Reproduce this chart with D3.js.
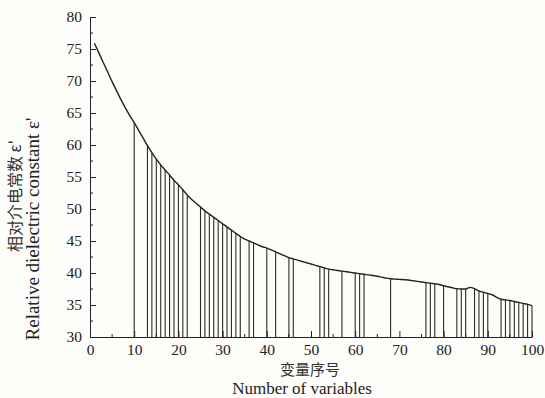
<!DOCTYPE html>
<html>
<head>
<meta charset="utf-8">
<script src="https://cdn.jsdelivr.net/npm/d3@7"></script>
<style>
  body { margin: 0; background: #fdfdfa; }
  svg { display: block; }
</style>
</head>
<body>
<script>
// chart size
var w = 545, h = 398;
var margin = {left: 90, right: 13, top: 17, bottom: 61};

// variable index and relative dielectric constant
var varIndex = d3.range(1, 101);
var epsValues = [
  75.9, 74.4, 72.9, 71.4, 69.9, 68.5, 67.1, 65.8, 64.6, 63.5,
  62.3, 61.1, 59.9, 58.8, 57.8, 56.9, 56.1, 55.3, 54.5, 53.8,
  53.0, 52.2, 51.5, 50.9, 50.3, 49.7, 49.2, 48.7, 48.2, 47.7,
  47.2, 46.7, 46.2, 45.7, 45.3, 45.0, 44.7, 44.4, 44.1, 43.9,
  43.6, 43.3, 43.0, 42.7, 42.4, 42.2, 42.0, 41.8, 41.6, 41.4,
  41.2, 41.0, 40.8, 40.6, 40.5, 40.4, 40.3, 40.2, 40.1, 40.0,
  39.9, 39.8, 39.7, 39.6, 39.5, 39.35, 39.2, 39.1, 39.05, 39.0,
  38.95, 38.9, 38.8, 38.7, 38.6, 38.5, 38.4, 38.3, 38.2, 38.0,
  37.85, 37.7, 37.55, 37.5, 37.5, 37.75, 37.55, 37.2, 37.0, 36.8,
  36.6, 36.2, 35.9, 35.8, 35.7, 35.55, 35.4, 35.25, 35.1, 34.9
];
// selected variables (drop lines)
var selected = [10, 13, 14, 15, 16, 17, 18, 19, 20, 21, 22,
  25, 26, 27, 28, 29, 30, 31, 32, 33, 34, 36, 37, 40, 42, 45, 46,
  52, 53, 54, 57, 60, 61, 62, 68, 76, 77, 78, 80, 83, 84, 85,
  87, 88, 89, 90, 93, 94, 95, 96, 97, 98, 99, 100];

var xTicks = [0, 10, 20, 30, 40, 50, 60, 70, 80, 90, 100];
var yTicks = [30, 35, 40, 45, 50, 55, 60, 65, 70, 75, 80];

window.onload = function(){
  var svg = d3.select("body").append("svg")
    .attr("width", w)
    .attr("height", h);

  var x = d3.scaleLinear().domain([0, 100]).range([margin.left, w - margin.right]);
  var y = d3.scaleLinear().domain([30, 80]).range([h - margin.bottom, margin.top]);

  var pts = varIndex.map(function(d, i){ return {n: d, v: epsValues[i]}; });

  // drop lines from the axis up to the curve
  svg.selectAll(".drop")
    .data(selected)
    .enter().append("line")
    .attr("class", "drop")
    .attr("x1", function(d){ return x(d); })
    .attr("x2", function(d){ return x(d); })
    .attr("y1", y(30))
    .attr("y2", function(d){ return y(epsValues[d - 1]); })
    .attr("stroke", "#2a2a2a")
    .attr("stroke-width", 1.1);

  // the curve
  var line = d3.line()
    .curve(d3.curveMonotoneX)
    .x(function(d){ return x(d.n); })
    .y(function(d){ return y(d.v); });
  svg.append("path")
    .datum(pts)
    .attr("d", line)
    .attr("fill", "none")
    .attr("stroke", "#222")
    .attr("stroke-width", 1.4);

  // x axis: ticks point inward, minor ticks at 5
  var xAxis = svg.append("g")
    .attr("class", "axis")
    .attr("font-family", "Liberation Serif")
    .attr("transform", "translate(0," + y(30) + ")")
    .call(d3.axisBottom(x).tickValues(xTicks).tickSizeInner(-6).tickSizeOuter(0).tickPadding(9));
  xAxis.attr("font-family", "Liberation Serif").attr("font-size", 15.5);
  xAxis.selectAll(".minor")
    .data(d3.range(5, 100, 10))
    .enter().append("line")
    .attr("class", "minor")
    .attr("x1", function(d){ return x(d); })
    .attr("x2", function(d){ return x(d); })
    .attr("y1", 0).attr("y2", -3)
    .attr("stroke", "#222");

  var yAxis = svg.append("g")
    .attr("class", "axis")
    .attr("transform", "translate(" + x(0) + ",0)")
    .call(d3.axisLeft(y).tickValues(yTicks).tickSizeInner(-6).tickSizeOuter(0).tickPadding(8));
  yAxis.attr("font-family", "Liberation Serif").attr("font-size", 15.5);
  yAxis.selectAll(".minor")
    .data(d3.range(32.5, 80, 5))
    .enter().append("line")
    .attr("class", "minor")
    .attr("x1", 0).attr("x2", 3)
    .attr("y1", function(d){ return y(d); })
    .attr("y2", function(d){ return y(d); })
    .attr("stroke", "#222");

  svg.selectAll(".axis .tick text").attr("fill", "#222");
  xAxis.selectAll(".tick text").attr("dy", "0.6em");
  svg.selectAll(".axis path, .axis line").attr("stroke", "#222");

  // axis titles
  svg.append("text")
    .attr("x", 310).attr("y", 375)
    .attr("text-anchor", "middle")
    .style("font-family", "'Noto Sans CJK SC', sans-serif")
    .style("font-size", "15px")
    .style("fill", "#333")
    .text("变量序号");
  svg.append("text")
    .attr("x", 302).attr("y", 394)
    .attr("text-anchor", "middle")
    .style("font-family", "'Liberation Serif', serif")
    .style("font-size", "17px")
    .style("fill", "#222")
    .text("Number of variables");

  svg.append("text")
    .attr("transform", "translate(21,196) rotate(-90)")
    .attr("text-anchor", "middle")
    .style("font-family", "'Noto Sans CJK SC', sans-serif")
    .style("font-size", "16px")
    .style("fill", "#333")
    .text("相对介电常数 ε'");
  svg.append("text")
    .attr("transform", "translate(39,229) rotate(-90)")
    .attr("text-anchor", "middle")
    .style("font-family", "'Liberation Serif', serif")
    .style("font-size", "19px")
    .style("fill", "#222")
    .text("Relative dielectric constant ε'");
};
</script>
</body>
</html>
